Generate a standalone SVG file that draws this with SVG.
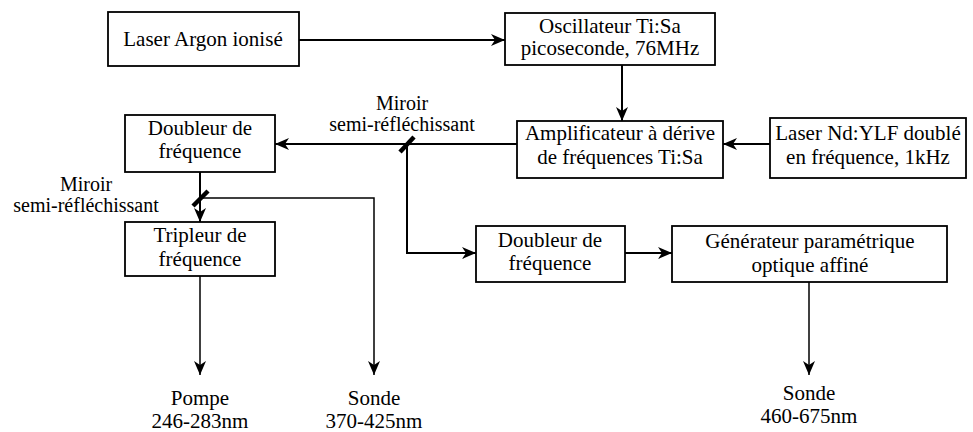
<svg xmlns="http://www.w3.org/2000/svg" width="973" height="432" viewBox="0 0 973 432">
<style>
.box{fill:#fff;stroke:#000;stroke-width:1.8}
text{font-family:'Liberation Serif','DejaVu Serif','Times New Roman',serif;font-size:21px;fill:#000;text-anchor:middle}
.s{font-size:20px}
.c{fill:none;stroke:#000;stroke-width:2}
.thin{fill:none;stroke:#000;stroke-width:1.5}
.mir{stroke:#000;stroke-width:4.5;stroke-linecap:butt}
</style>
<defs>
<marker id="ah" viewBox="0 0 14 12" refX="14" refY="6" markerWidth="14" markerHeight="12" orient="auto" markerUnits="userSpaceOnUse">
<path d="M0,0 L14,6 L0,12 L4,6 Z" fill="#000"/>
</marker>
</defs>
<rect width="973" height="432" fill="#fff"/>
<g id="connectors">
<path class="c" d="M299,40 H505" marker-end="url(#ah)"/>
<path class="c" d="M622,65 V121" marker-end="url(#ah)"/>
<path class="c" d="M770,144 H723" marker-end="url(#ah)"/>
<path class="c" d="M517,144 H275" marker-end="url(#ah)"/>
<path class="c" d="M407,144 V253 H476" marker-end="url(#ah)"/>
<path class="c" d="M625,253 H672" marker-end="url(#ah)"/>
<path class="c" d="M200,172 V222" marker-end="url(#ah)"/>
<path class="thin" d="M200,198 H374 V375" marker-end="url(#ah)"/>
<path class="thin" d="M200,276 V375" marker-end="url(#ah)"/>
<path class="thin" d="M809,282 V375" marker-end="url(#ah)"/>
<line class="mir" x1="400" y1="152" x2="414" y2="137"/>
<line class="mir" x1="193" y1="206" x2="208" y2="191"/>
</g>
<g id="laser-argon">
<rect class="box" x="108" y="12" width="191" height="54"/>
<text font-family="Liberation Serif, serif" x="203" y="46">Laser Argon ionisé</text>
</g>
<g id="oscillateur">
<rect class="box" x="505" y="13" width="210" height="52"/>
<text font-family="Liberation Serif, serif" x="610" y="33">Oscillateur Ti:Sa</text>
<text font-family="Liberation Serif, serif" x="610" y="55">picoseconde, 76MHz</text>
</g>
<g id="amplificateur">
<rect class="box" x="517" y="121" width="206" height="57"/>
<text font-family="Liberation Serif, serif" x="620" y="140">Amplificateur à dérive</text>
<text font-family="Liberation Serif, serif" x="620" y="164">de fréquences Ti:Sa</text>
</g>
<g id="nd-ylf">
<rect class="box" x="770" y="118" width="196" height="60"/>
<text font-family="Liberation Serif, serif" x="868" y="140">Laser Nd:YLF doublé</text>
<text font-family="Liberation Serif, serif" x="868" y="164">en fréquence, 1kHz</text>
</g>
<g id="doubleur-1">
<rect class="box" x="125" y="115" width="150" height="57"/>
<text font-family="Liberation Serif, serif" x="200" y="135">Doubleur de</text>
<text font-family="Liberation Serif, serif" x="200" y="158">fréquence</text>
</g>
<g id="miroir-1">
<text class="s" font-family="Liberation Serif, serif" x="402" y="110">Miroir</text>
<text class="s" font-family="Liberation Serif, serif" x="402" y="131">semi-réfléchissant</text>
</g>
<g id="miroir-2">
<text class="s" font-family="Liberation Serif, serif" x="86" y="191">Miroir</text>
<text class="s" font-family="Liberation Serif, serif" x="86" y="212">semi-réfléchissant</text>
</g>
<g id="tripleur">
<rect class="box" x="125" y="222" width="150" height="54"/>
<text font-family="Liberation Serif, serif" x="200" y="242">Tripleur de</text>
<text font-family="Liberation Serif, serif" x="200" y="266">fréquence</text>
</g>
<g id="doubleur-2">
<rect class="box" x="476" y="226" width="149" height="56"/>
<text font-family="Liberation Serif, serif" x="550" y="247">Doubleur de</text>
<text font-family="Liberation Serif, serif" x="550" y="270">fréquence</text>
</g>
<g id="generateur">
<rect class="box" x="672" y="226" width="275" height="56"/>
<text font-family="Liberation Serif, serif" x="810" y="248">Générateur paramétrique</text>
<text font-family="Liberation Serif, serif" x="810" y="272">optique affiné</text>
</g>
<g id="pompe">
<text font-family="Liberation Serif, serif" x="200" y="405">Pompe</text>
<text font-family="Liberation Serif, serif" x="200" y="428">246-283nm</text>
</g>
<g id="sonde-1">
<text font-family="Liberation Serif, serif" x="374" y="405">Sonde</text>
<text font-family="Liberation Serif, serif" x="374" y="428">370-425nm</text>
</g>
<g id="sonde-2">
<text font-family="Liberation Serif, serif" x="809" y="400">Sonde</text>
<text font-family="Liberation Serif, serif" x="809" y="423">460-675nm</text>
</g>
</svg>
